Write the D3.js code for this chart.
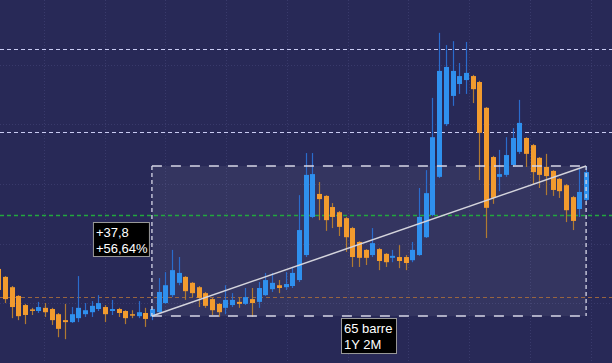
<!DOCTYPE html>
<html><head><meta charset="utf-8">
<script src="https://cdn.jsdelivr.net/npm/d3@7/dist/d3.min.js"></script>
<style>html,body{margin:0;padding:0;background:#282957;}svg{display:block;}</style>
</head><body><div id="chart"></div>
<script>
// Weekly candles, index 0..88
const opens  = [78.6,76.6,74.0,71.8,69.5,68.4,68.0,68.8,68.5,67.2,65.7,65.2,66.2,67.2,67.7,68.5,69.0,68.0,68.5,68.0,67.2,66.7,67.5,66.6,67.7,70.0,72.0,75.1,76.6,75.1,74.0,72.5,71.0,69.8,68.8,69.5,70.3,69.8,71.0,70.3,72.0,73.5,74.5,74.0,74.3,75.8,82.1,91.7,97.5,97.0,94.2,92.9,91.4,88.9,85.4,83.4,82.1,83.6,82.4,81.4,81.6,81.6,80.8,82.1,86.6,92.2,101.8,115.1,122.2,125.2,126.2,127.2,125.7,119.2,106.8,101.8,102.3,104.8,108.1,111.6,109.8,106.6,104.3,103.3,101.3,99.7,96.7,93.7,96.0];
const highs  = [79.1,76.8,74.3,72.0,69.8,68.8,70.3,70.0,68.8,67.5,69.8,69.0,76.8,70.0,70.5,72.0,69.5,70.8,68.8,68.2,68.2,70.5,68.8,69.0,76.3,77.8,83.4,81.6,76.8,75.3,74.3,72.8,71.3,70.0,74.5,72.5,71.5,73.8,73.8,75.3,77.6,77.6,75.8,77.8,79.1,97.2,107.8,107.8,100.5,97.2,95.2,93.2,91.7,89.2,85.6,83.6,88.9,83.9,82.6,83.4,84.6,82.1,85.4,99.0,103.5,121.7,138.1,135.0,136.0,130.5,135.8,127.5,126.0,119.4,107.1,108.6,111.8,114.1,121.2,111.8,110.1,106.8,107.6,103.5,101.5,100.0,97.0,104.0,104.5];
const lows   = [72.8,70.0,66.2,65.7,64.7,67.0,67.5,66.5,64.5,61.4,60.9,65.0,65.2,66.5,66.5,68.0,65.2,67.0,66.5,64.7,66.2,66.2,64.0,65.7,67.5,69.8,71.5,74.5,70.8,71.5,69.0,68.8,67.0,66.5,67.2,69.0,68.8,69.5,66.5,68.8,71.8,72.8,72.5,73.3,73.8,75.3,81.6,91.4,90.9,88.2,88.9,86.9,82.9,79.1,79.1,79.6,81.6,78.3,79.1,80.3,78.8,78.3,80.3,81.9,86.4,91.9,101.5,114.6,119.7,122.7,122.7,120.4,101.0,86.4,95.0,98.2,101.8,104.3,107.6,104.3,100.0,99.0,97.2,97.0,96.5,90.4,88.4,91.7,95.7];
const closes = [73.3,71.0,69.0,66.7,67.0,68.1,69.0,67.7,65.7,63.5,65.2,67.2,68.8,68.2,69.3,70.0,67.2,68.5,67.5,66.2,66.9,67.7,66.0,68.5,72.8,74.5,78.3,77.6,73.0,72.5,71.3,69.3,68.2,67.7,70.8,70.8,69.8,71.5,70.0,73.8,75.8,75.1,73.8,74.8,77.6,88.4,102.3,102.5,96.2,90.9,91.7,89.2,86.6,81.6,81.4,81.4,85.1,80.6,80.3,81.9,80.6,80.1,83.4,91.7,97.7,111.8,128.5,129.5,128.5,127.2,128.0,123.9,112.9,94.0,96.5,102.5,107.3,111.6,115.4,107.6,103.0,102.3,102.0,98.5,98.2,93.4,90.7,98.0,103.0];
// horizontal levels
const levelsLavender = [134.0, 113.1];
const levelGreen = 92.2;
const levelBrown = 71.5;
const gridValues = [70, 85, 100, 115, 130];
const gridBars = [6.85, 15.97, 24.96, 34.1, 43.2, 52.3, 61.4, 70.5, 79.6, 88.7];
// measurement
const measureStartBar = 23, measureEndBar = 88;
const measureStartValue = 66.74, measureEndValue = 104.54;
const measureLabel1 = ["+37,8", "+56,64%"];
const measureLabel2 = ["65 barre", "1Y 2M"];

const W = 612, H = 363;
const svg = d3.select("#chart").append("svg").attr("width", W).attr("height", H);
svg.append("rect").attr("width", W).attr("height", H).attr("fill", "#282957");

const x = d3.scaleLinear().domain([0, 88]).range([-1.7, 586.1]);
const y = d3.scaleLinear().domain([54.9, 146.37]).range([363, 0]);

// grid
const g = svg.append("g");
g.selectAll("line.gh").data(gridValues).join("line").attr("class", "gh")
  .attr("x1", 0).attr("x2", W).attr("y1", d => Math.round(y(d)) + 0.5).attr("y2", d => Math.round(y(d)) + 0.5)
  .attr("stroke", "#393a6b").attr("stroke-dasharray", "1,2");
g.selectAll("line.gv").data(gridBars).join("line").attr("class", "gv")
  .attr("y1", 0).attr("y2", H).attr("x1", d => Math.round(x(d)) + 0.5).attr("x2", d => Math.round(x(d)) + 0.5)
  .attr("stroke", "#393a6b").attr("stroke-dasharray", "1,2");

// measurement rectangle fill
const rx0 = x(measureStartBar), rx1 = x(measureEndBar);
const ry0 = y(measureEndValue), ry1 = y(measureStartValue);
svg.append("rect").attr("x", rx0).attr("y", ry0).attr("width", rx1 - rx0).attr("height", ry1 - ry0)
  .attr("fill", "rgba(255,255,255,0.06)");

// levels
svg.selectAll("line.lv").data(levelsLavender).join("line").attr("class", "lv")
  .attr("x1", 0).attr("x2", W).attr("y1", d => Math.round(y(d)) + 0.5).attr("y2", d => Math.round(y(d)) + 0.5)
  .attr("stroke", "#c9cbf2").attr("stroke-width", 1.2).attr("stroke-dasharray", "4,3");
svg.append("line").attr("x1", 0).attr("x2", W).attr("y1", Math.round(y(levelGreen)) + 0.5).attr("y2", Math.round(y(levelGreen)) + 0.5)
  .attr("stroke", "#22a83e").attr("stroke-width", 1.3).attr("stroke-dasharray", "4,3");
svg.append("line").attr("x1", 0).attr("x2", W).attr("y1", Math.round(y(levelBrown)) + 0.5).attr("y2", Math.round(y(levelBrown)) + 0.5)
  .attr("stroke", "#986540").attr("stroke-width", 1.1).attr("stroke-dasharray", "4,3");

// candles
const data = opens.map((o, i) => ({i, o, h: highs[i], l: lows[i], c: closes[i]}));
const bw = 5;
const cg = svg.append("g");
cg.selectAll("line.wick").data(data).join("line").attr("class", "wick")
  .attr("x1", d => Math.round(x(d.i)) + 0.5).attr("x2", d => Math.round(x(d.i)) + 0.5)
  .attr("y1", d => y(d.h)).attr("y2", d => y(d.l))
  .attr("stroke", d => d.c >= d.o ? "#2a6ccc" : "#b07a32").attr("stroke-width", 1.2);
cg.selectAll("rect.body").data(data).join("rect").attr("class", "body")
  .attr("x", d => Math.round(x(d.i)) + 0.5 - bw / 2)
  .attr("y", d => y(Math.max(d.o, d.c)))
  .attr("width", bw)
  .attr("height", d => Math.max(1.5, Math.abs(y(d.o) - y(d.c))))
  .attr("fill", d => d.c >= d.o ? "#2f90ee" : "#f29b2e");

// measurement borders
const bc = "#d6d6e6";
svg.append("line").attr("x1", rx0).attr("x2", rx1).attr("y1", ry0).attr("y2", ry0)
  .attr("stroke", bc).attr("stroke-width", 1.3).attr("stroke-dasharray", "10,9");
svg.append("line").attr("x1", rx0).attr("x2", rx1).attr("y1", ry1).attr("y2", ry1)
  .attr("stroke", bc).attr("stroke-width", 1.3).attr("stroke-dasharray", "10,9");
svg.append("line").attr("x1", rx0).attr("x2", rx0).attr("y1", ry0).attr("y2", ry1)
  .attr("stroke", bc).attr("stroke-width", 1.3).attr("stroke-dasharray", "4,3");
svg.append("line").attr("x1", rx1).attr("x2", rx1).attr("y1", ry0).attr("y2", ry1)
  .attr("stroke", bc).attr("stroke-width", 1.3).attr("stroke-dasharray", "4,3");
// diagonal
svg.append("line").attr("x1", rx0).attr("y1", ry1).attr("x2", rx1).attr("y2", ry0)
  .attr("stroke", "#d4d4dc").attr("stroke-width", 1.5);

// labels
function label(xl, yt, w, h, lines) {
  const gg = svg.append("g");
  gg.append("rect").attr("x", xl + 0.5).attr("y", yt + 0.5).attr("width", w).attr("height", h)
    .attr("fill", "#000").attr("stroke", "#9a9a9a").attr("stroke-width", 1);
  gg.selectAll("text").data(lines).join("text")
    .attr("x", xl + 3).attr("y", (d, k) => yt + 15 + k * 16)
    .attr("fill", "#fff").attr("font-family", "Liberation Sans, Arial, sans-serif").attr("font-size", 13)
    .text(d => d);
}
label(rx0 - 59, (ry0 + ry1) / 2 - 19, 56, 34, measureLabel1);
label((rx0 + rx1) / 2 - 28, ry1 + 2, 55, 35, measureLabel2);
</script>
</body></html>
